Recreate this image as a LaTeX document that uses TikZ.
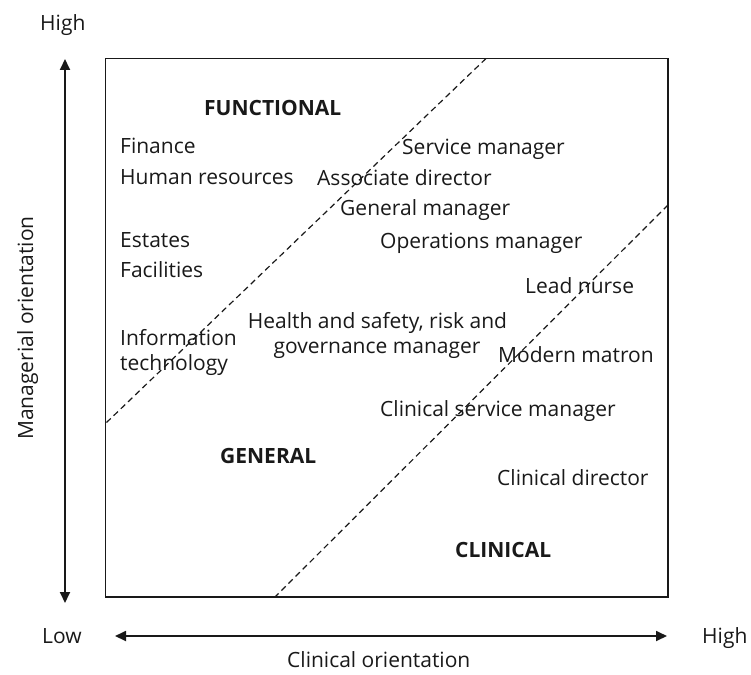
\documentclass[tikz,border=0pt]{standalone}
\usepackage{fontspec}
\setmainfont{Open Sans}
\usetikzlibrary{arrows.meta}
\begin{document}
\begin{tikzpicture}[x=1pt,y=-1pt,
  lbl/.style={anchor=base west, inner sep=0pt, font=\fontsize{21}{25}\selectfont, text=black!90},
  ctr/.style={anchor=base, inner sep=0pt, font=\fontsize{21}{25}\selectfont, text=black!90},
  hdr/.style={anchor=base west, inner sep=0pt, font=\fontsize{21}{25}\selectfont\bfseries, text=black!90},
  frame/.style={draw=black!90, line width=1.5pt},
  axis/.style={draw=black!90, line width=1.8pt, -{Triangle[length=11pt,width=10pt]}},
  divider/.style={draw=black!90, line width=1.2pt, dash pattern=on 6pt off 4pt}]
\useasboundingbox (0,0) rectangle (751,674);
% frame
\draw[frame] (105.5,58.5) rectangle (668,597);
% axes
\coordinate (vmid) at (65,330);
\coordinate (vtop) at (65,59);
\coordinate (vbot) at (65,603);
\coordinate (hmid) at (391,636);
\coordinate (hleft) at (115,636);
\coordinate (hright) at (667,636);
\draw[axis] (vmid) -- (vtop);
\draw[axis] (vmid) -- (vbot);
\draw[axis] (hmid) -- (hleft);
\draw[axis] (hmid) -- (hright);
% dividers
\coordinate (d1a) at (486,58.5);
\coordinate (d1b) at (106.5,422.5);
\coordinate (d2a) at (668,205);
\coordinate (d2b) at (275,597);
\draw[divider] (d1a) -- (d1b);
\draw[divider] (d2a) -- (d2b);
% axis labels
\node[lbl] (highv) at (40,31) {High};
\node[lbl] (low) at (42,643) {Low};
\node[lbl] (highh) at (702,643) {High};
\node[lbl] (corient) at (287,667) {Clinical orientation};
\node[ctr, rotate=90] (morient) at (33,328) {Managerial orientation};
% region titles
\node[hdr] (functional) at (204,115) {FUNCTIONAL};
\node[hdr] (general) at (220,463) {GENERAL};
\node[hdr] (clinical) at (455,557) {CLINICAL};
% roles
\node[lbl] (finance) at (120,153) {Finance};
\node[lbl] (hr) at (120,184) {Human resources};
\node[lbl] (estates) at (120,247) {Estates};
\node[lbl] (facilities) at (120,277) {Facilities};
\node[lbl] (info1) at (120,345) {Information};
\node[lbl] (info2) at (120,370) {technology};
\node[lbl] (service) at (402,154) {Service manager};
\node[lbl] (assoc) at (317,185) {Associate director};
\node[lbl] (genman) at (340,215) {General manager};
\node[lbl] (ops) at (380,248) {Operations manager};
\node[lbl] (lead) at (525,293) {Lead nurse};
\node[ctr] (health1) at (377.5,328) {Health and safety, risk and};
\node[ctr] (health2) at (377,353) {governance manager};
\node[lbl] (matron) at (498,362) {Modern matron};
\node[lbl] (csm) at (380,416) {Clinical service manager};
\node[lbl] (cdir) at (497,485) {Clinical director};
\end{tikzpicture}
\end{document}
